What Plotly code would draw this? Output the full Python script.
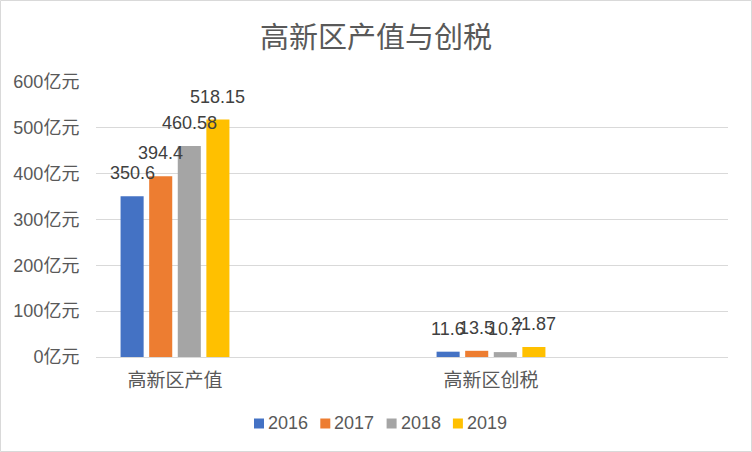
import plotly.graph_objects as go

categories = ["高新区产值", "高新区创税"]
years = ["2016", "2017", "2018", "2019"]
values_2016 = [350.6, 11.6]
values_2017 = [394.4, 13.5]
values_2018 = [460.58, 10.7]
values_2019 = [518.15, 21.87]
series = [values_2016, values_2017, values_2018, values_2019]
colors = ["#4472C4", "#ED7D31", "#A5A5A5", "#FFC000"]
y_ticks = [0, 100, 200, 300, 400, 500, 600]
y_ticktext = [f"{v}亿元" for v in y_ticks]

W, H = 752, 452
ml, mr, mt, mb = 96, 24, 82, 95
pw, ph = W - ml - mr, H - mt - mb

FONT = "Liberation Sans, Noto Sans CJK SC, sans-serif"


def px_x(px):
    return (px - ml) / pw


def px_y(py):
    return (H - mb - py) / ph


# numeric category positions: each category band is 1 unit, group sits in left part of band
centers = [i + 0.25 for i in range(len(categories))]
bar_w = 0.073
pitch = 0.0905

fig = go.Figure()
annotations = []
shapes = []
for k, (name, vals, col) in enumerate(zip(years, series, colors)):
    off = (k - (len(years) - 1) / 2) * pitch
    xs = [c + off for c in centers]
    fig.add_trace(go.Bar(
        x=xs, y=vals, name=name, width=bar_w, marker_color=col,
        marker_line_width=0, showlegend=False,
    ))
    for x, v in zip(xs, vals):
        annotations.append(dict(
            x=x, y=v, xref="x", yref="y", text=f"{v:g}", showarrow=False,
            yanchor="bottom", xanchor="center", yshift=11,
            font=dict(family=FONT, size=18, color="#404040"),
        ))
    # legend entry (square swatch + label)
    lx = 254 + 66.3 * k
    shapes.append(dict(type="rect", xref="paper", yref="paper",
                       x0=px_x(lx), x1=px_x(lx + 10), y0=px_y(428.5), y1=px_y(418.5),
                       line=dict(width=0), fillcolor=col))
    annotations.append(dict(
        x=px_x(lx + 12), y=px_y(423.5), xref="paper", yref="paper", text=name,
        showarrow=False, xanchor="left", yanchor="middle",
        font=dict(family=FONT, size=18, color="#595959"),
    ))

# outer chart border
shapes.append(dict(type="rect", xref="paper", yref="paper",
                   x0=px_x(0.5), x1=px_x(W - 0.5), y0=px_y(H - 0.5), y1=px_y(0.5),
                   line=dict(color="#D9D9D9", width=1), fillcolor="rgba(0,0,0,0)", layer="below"))

fig.update_layout(
    width=W, height=H,
    margin=dict(l=ml, r=mr, t=mt, b=mb),
    paper_bgcolor="white", plot_bgcolor="white",
    barmode="overlay",
    title=dict(text="高新区产值与创税", x=0.5, xanchor="center", y=1 - 38 / H, yanchor="middle",
               font=dict(family=FONT, size=29, color="#595959")),
    xaxis=dict(range=[0, 2], tickvals=centers, ticktext=categories, showgrid=False,
               zeroline=False, showline=False, ticks="outside", ticklen=6, tickcolor="rgba(0,0,0,0)",
               tickfont=dict(family=FONT, size=19, color="#595959"), fixedrange=True),
    yaxis=dict(range=[0, 600], tickvals=y_ticks, ticktext=y_ticktext, showgrid=True,
               gridcolor="#D9D9D9", gridwidth=1, zeroline=True, zerolinecolor="#D9D9D9",
               zerolinewidth=1, showline=False, ticks="outside", ticklen=12,
               tickcolor="rgba(0,0,0,0)",
               tickfont=dict(family=FONT, size=18, color="#595959"), fixedrange=True),
    annotations=annotations,
    shapes=shapes,
    showlegend=False,
)

fig.write_html("out.html", config={"displayModeBar": False})
with open("out.html", encoding="utf-8") as f:
    html = f.read()
html = html.replace("<body>", '<body style="margin:0;padding:0;overflow:hidden">', 1)
html = html.replace("<head>", '<head><style>html,body{margin:0;padding:0;}</style>', 1)
with open("out.html", "w", encoding="utf-8") as f:
    f.write(html)
